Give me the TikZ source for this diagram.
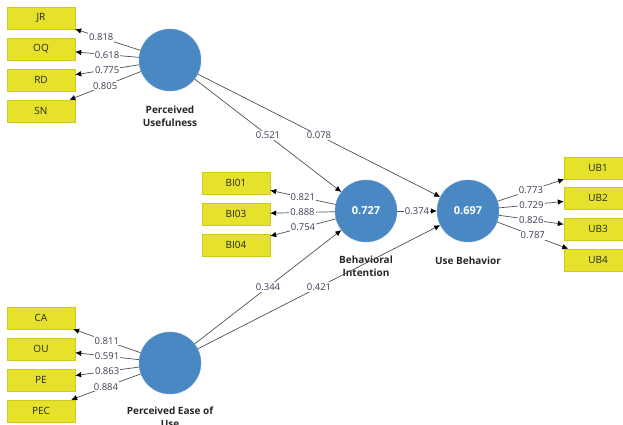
\documentclass[tikz,border=0pt]{standalone}
\usepackage{fontspec}
\setmainfont{Open Sans}
\usetikzlibrary{positioning, arrows.meta}

\definecolor{lvblue}{HTML}{4A88C4}
\definecolor{lvedge}{HTML}{6E9ED0}
\definecolor{mvyellow}{HTML}{E6E22C}
\definecolor{mvedge}{HTML}{CFCB1E}
\definecolor{pathgray}{HTML}{505050}
\definecolor{coeftext}{HTML}{3C3C58}

\tikzset{
    latent/.style={circle, fill=lvblue, draw=lvedge, minimum size=62pt, inner sep=0pt,
        text=white, font=\fontsize{11}{13}\selectfont\bfseries},
    indicator/.style={rectangle, fill=mvyellow, draw=mvedge, minimum width=68pt,
        minimum height=22pt, inner sep=0pt, text=black!85, font=\fontsize{10}{11}\selectfont},
    latname/.style={align=center, inner sep=0pt, text=black!85,
        font=\fontsize{10}{13}\selectfont\bfseries},
    pathline/.style={draw=pathgray, line width=0.7pt, -{Latex[length=6pt,width=5.5pt,color=black]}},
    coef/.style={pos=0.5, fill=white, inner sep=1pt, text=coeftext, font=\fontsize{9.5}{11}\selectfont}
}

\begin{document}
\begin{tikzpicture}[x=1pt, y=-1pt]
        \useasboundingbox (0,0) rectangle (623,424);

        \node[latent] (PU) at (170, 60) {};
        \node[latent] (PEOU) at (170, 363) {};
        \node[latent] (BI) at (366, 211) {0.727};
        \node[latent] (UB) at (468, 211) {0.697};

        \node[latname, below=14pt of PU] (PUname) {Perceived\\Usefulness};
        \node[latname, below=12pt of PEOU] (PEOUname) {Perceived Ease of\\Use};
        \node[latname, below=13pt of BI] (BIname) {Behavioral\\Intention};
        \node[latname, below=14pt of UB] (UBname) {Use Behavior};

        \node[indicator] (JR) at (41, 18) {JR};
        \node[indicator] (OQ) at (41, 49) {OQ};
        \node[indicator] (RD) at (41, 80) {RD};
        \node[indicator] (SN) at (41, 111) {SN};

        \node[indicator] (CA) at (41, 318) {CA};
        \node[indicator] (OU) at (41, 349) {OU};
        \node[indicator] (PE) at (41, 380) {PE};
        \node[indicator] (PEC) at (41, 411) {PEC};

        \node[indicator] (BI01) at (236, 183) {BI01};
        \node[indicator] (BI03) at (236, 214) {BI03};
        \node[indicator] (BI04) at (236, 245) {BI04};

        \node[indicator] (UB1) at (598, 168) {UB1};
        \node[indicator] (UB2) at (598, 198) {UB2};
        \node[indicator] (UB3) at (598, 229) {UB3};
        \node[indicator] (UB4) at (598, 260) {UB4};

        \draw[pathline] (PU) -- (JR) node[coef, pos=0.6] {0.818};
        \draw[pathline] (PU) -- (OQ) node[coef] {0.618};
        \draw[pathline] (PU) -- (RD) node[coef] {0.775};
        \draw[pathline] (PU) -- (SN) node[coef] {0.805};

        \draw[pathline] (PEOU) -- (CA) node[coef] {0.811};
        \draw[pathline] (PEOU) -- (OU) node[coef] {0.591};
        \draw[pathline] (PEOU) -- (PE) node[coef] {0.863};
        \draw[pathline] (PEOU) -- (PEC) node[coef] {0.884};

        \draw[pathline] (BI) -- (BI01) node[coef] {0.821};
        \draw[pathline] (BI) -- (BI03) node[coef] {0.888};
        \draw[pathline] (BI) -- (BI04) node[coef] {0.754};

        \draw[pathline] (UB) -- (UB1) node[coef] {0.773};
        \draw[pathline] (UB) -- (UB2) node[coef] {0.729};
        \draw[pathline] (UB) -- (UB3) node[coef] {0.826};
        \draw[pathline] (UB) -- (UB4) node[coef] {0.787};

        \draw[pathline] (PU) -- (BI) node[coef] {0.521};
        \draw[pathline] (PU) -- (UB) node[coef] {0.078};
        \draw[pathline] (PEOU) -- (BI) node[coef] {0.344};
        \draw[pathline] (PEOU) -- (UB) node[coef] {0.421};
        \draw[pathline] (BI) -- (UB) node[coef] {0.374};
    \end{tikzpicture}
\end{document}
